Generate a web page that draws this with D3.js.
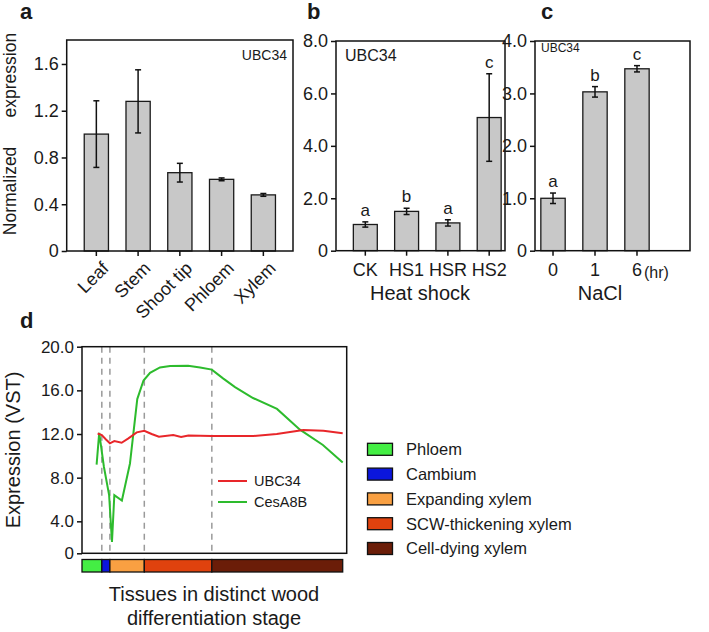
<!DOCTYPE html>
<html><head><meta charset="utf-8">
<script src="https://cdn.jsdelivr.net/npm/d3@7"></script>
<style>
body{margin:0;background:#fff}
text{font-family:Arial,"Liberation Sans",sans-serif;fill:#1a1a1a}
</style>
</head><body>
<svg id="chart" width="709" height="632"></svg>
<script>
// ---------- data ----------
const tissueCats = ["Leaf","Stem","Shoot tip","Phloem","Xylem"];
const tissueMean = [1.0, 1.28, 0.67, 0.613, 0.48];
const tissueErr  = [0.285, 0.27, 0.08, 0.012, 0.012];
const tissueTicks = [0, 0.4, 0.8, 1.2, 1.6];
const tissueTickLabels = ["0","0.4","0.8","1.2","1.6"];

const heatCats = ["CK","HS1","HSR","HS2"];
const heatMean = [1.0, 1.5, 1.06, 5.08];
const heatErr  = [0.1, 0.12, 0.12, 1.67];
const heatLetters = ["a","b","a","c"];
const heatTicks = [0, 2, 4, 6, 8];
const heatTickLabels = ["0","2.0","4.0","6.0","8.0"];

const saltCats = ["0","1","6"];
const saltMean = [1.0, 3.03, 3.47];
const saltErr  = [0.1, 0.1, 0.06];
const saltLetters = ["a","b","c"];
const saltTicks = [0, 1, 2, 3, 4];
const saltTickLabels = ["0","1.0","2.0","3.0","4.0"];

const ubcPos = [6.0,7.6,9.2,10.7,12.4,15.2,17.8,21.0,23.9,26.7,29.5,35.0,38.0,40.8,49.8,65.7,74.7,84.9,92.6,100];
const ubcVal = [12.05,11.9,11.5,11.15,11.35,11.2,11.6,12.15,12.3,12.0,11.75,11.9,11.72,11.87,11.82,11.82,12.0,12.36,12.3,12.06];
const cesPos = [5.6,6.6,8.4,10.4,11.5,12.4,15.3,18.4,21.2,23.6,26.1,29.9,33.8,40.7,45.3,49.8,54.1,58.7,65.6,74.8,83.6,92.4,100];
const cesVal = [9.2,12.1,9.0,6.4,2.1,6.4,5.9,9.3,15.2,16.9,17.6,18.1,18.23,18.26,18.1,17.9,17.1,16.3,15.3,14.3,12.4,11.0,9.4];
const vstTicks = [1.07, 4, 8, 12, 16, 20];
const vstTickLabels = ["0","4.0","8.0","12.0","16.0","20.0"];

const stageNames = ["Phloem","Cambium","Expanding xylem","SCW-thickening xylem","Cell-dying xylem"];
const stageStart = [0, 7.6, 10.7, 23.9, 49.8];
const stageEnd   = [7.6, 10.7, 23.9, 49.8, 100];
const stageColors = ["#44ee44","#0b16dc","#f9a042","#e0420e","#6b1d08"];

const seriesNames = ["UBC34","CesA8B"];
const seriesColors = ["#e8262a","#2dbb2d"];

// ---------- drawing ----------
const svg = d3.select("#chart");
const TICKFS = "18px";

function barPanel(cfg) {
  const g = svg.append("g");
  const x = d3.scaleBand().domain(cfg.cats).range([cfg.bx0, cfg.bx1]).paddingInner(0.42).paddingOuter(0.42);
  const y = d3.scaleLinear().domain([0, cfg.ymax]).range([cfg.yb, cfg.yt]);
  const data = cfg.cats.map((c,i)=>({c, m:cfg.mean[i], e:cfg.err[i], l:cfg.letters?cfg.letters[i]:null}));
  g.selectAll("rect.bar").data(data).join("rect").attr("class","bar")
    .attr("x", d=>x(d.c)).attr("width", x.bandwidth())
    .attr("y", d=>y(d.m)).attr("height", d=>y(0)-y(d.m))
    .attr("fill","#c8c8c8").attr("stroke","#1a1a1a").attr("stroke-width",1.3);
  const eb = g.selectAll("g.eb").data(data).join("g").attr("stroke","#111").attr("stroke-width",1.5);
  const cx = d=>x(d.c)+x.bandwidth()/2;
  eb.append("line").attr("x1",cx).attr("x2",cx).attr("y1",d=>y(d.m+d.e)).attr("y2",d=>y(d.m-d.e));
  eb.append("line").attr("x1",d=>cx(d)-3).attr("x2",d=>cx(d)+3).attr("y1",d=>y(d.m+d.e)).attr("y2",d=>y(d.m+d.e));
  eb.append("line").attr("x1",d=>cx(d)-3).attr("x2",d=>cx(d)+3).attr("y1",d=>y(d.m-d.e)).attr("y2",d=>y(d.m-d.e));
  if (cfg.letters) {
    g.selectAll("text.let").data(data).join("text").attr("class","let")
      .attr("x",cx).attr("y",d=>y(d.m+d.e)-6).attr("text-anchor","middle")
      .style("font-size","17px").text(d=>d.l);
  }
  g.append("rect").attr("x",cfg.x0).attr("y",cfg.yt).attr("width",cfg.x1-cfg.x0).attr("height",cfg.yb-cfg.yt)
    .attr("fill","none").attr("stroke","#111").attr("stroke-width",1.5);
  const ya = g.append("g").attr("transform",`translate(${cfg.x0},0)`)
    .call(d3.axisLeft(y).tickValues(cfg.ticks).tickFormat((d,i)=>cfg.tickLabels[i]).tickSize(5).tickPadding(3));
  ya.select(".domain").remove();
  ya.selectAll("line").attr("stroke","#111").attr("stroke-width",1.5);
  ya.selectAll("text").style("font-size",TICKFS).attr("fill","#1a1a1a");
  const xa = g.append("g").attr("transform",`translate(0,${cfg.yb})`)
    .call(d3.axisBottom(x).tickSize(5).tickPadding(8));
  xa.select(".domain").remove();
  xa.selectAll("line").attr("stroke","#111").attr("stroke-width",1.5);
  xa.selectAll("text").style("font-size",TICKFS).attr("fill","#1a1a1a");
  g.append("text").attr("x",cfg.tagX).attr("y",cfg.tagY).attr("text-anchor",cfg.tagAnchor)
    .style("font-size",cfg.tagFs).text("UBC34");
  return {g,x,y,xa};
}

// panel a
const pa = barPanel({cats:tissueCats, mean:tissueMean, err:tissueErr, ticks:tissueTicks, tickLabels:tissueTickLabels,
  x0:66.7, x1:293, bx0:66.7, bx1:293, yb:251, yt:40, ymax:1.805, tagX:287, tagY:60, tagAnchor:"end", tagFs:"14px"});
pa.xa.selectAll(".tick text").attr("text-anchor","end").attr("dy","0.35em").attr("y",0).attr("x",0)
  .attr("transform","translate(9,14) rotate(-45)");
svg.append("text").attr("transform","translate(16,134) rotate(-90)").attr("text-anchor","middle")
  .style("font-size","17.5px").style("white-space","pre").text("Normalized      expression");
svg.append("text").attr("x",20).attr("y",19).style("font-size","22px").style("font-weight","bold").text("a");

// panel b
const pb = barPanel({cats:heatCats, mean:heatMean, err:heatErr, letters:heatLetters, ticks:heatTicks, tickLabels:heatTickLabels,
  x0:336, x1:505, bx0:336, bx1:518.5, yb:250.7, yt:41, ymax:8, tagX:345, tagY:61, tagAnchor:"start", tagFs:"16px"});
svg.append("text").attr("x",420).attr("y",300).attr("text-anchor","middle").style("font-size","20px").text("Heat shock");
svg.append("text").attr("x",307).attr("y",19).style("font-size","22px").style("font-weight","bold").text("b");

// panel c
const pc = barPanel({cats:saltCats, mean:saltMean, err:saltErr, letters:saltLetters, ticks:saltTicks, tickLabels:saltTickLabels,
  x0:535, x1:690, bx0:523.2, bx1:666.8, yb:250.7, yt:41, ymax:4, tagX:541, tagY:52, tagAnchor:"start", tagFs:"12px"});
svg.append("text").attr("x",pc.x("6")+pc.x.bandwidth()/2+7).attr("y",278).style("font-size","16px").text("(hr)");
svg.append("text").attr("x",600).attr("y",300).attr("text-anchor","middle").style("font-size","20px").text("NaCl");
svg.append("text").attr("x",541).attr("y",19).style("font-size","22px").style("font-weight","bold").text("c");

// panel d
{
  const g = svg.append("g");
  const X0=82, X1=342.7, YT=346.7, YB=553.3;
  const x = d3.scaleLinear().domain([0,100]).range([X0,X1]);
  const y = d3.scaleLinear().domain([1.07,20]).range([YB,YT]);
  g.selectAll("line.bd").data(stageEnd.slice(0,4)).join("line").attr("class","bd")
    .attr("x1",d=>x(d)).attr("x2",d=>x(d)).attr("y1",YT).attr("y2",YB)
    .attr("stroke","#9a9a9a").attr("stroke-width",1.5).attr("stroke-dasharray","6,5");
  const line = d3.line().x(d=>x(d[0])).y(d=>y(d[1]));
  g.append("path").datum(cesPos.map((p,i)=>[p,cesVal[i]])).attr("d",line)
    .attr("fill","none").attr("stroke",seriesColors[1]).attr("stroke-width",2);
  g.append("path").datum(ubcPos.map((p,i)=>[p,ubcVal[i]])).attr("d",line)
    .attr("fill","none").attr("stroke",seriesColors[0]).attr("stroke-width",2);
  g.append("rect").attr("x",X0).attr("y",YT).attr("width",X1+4-X0).attr("height",YB-YT)
    .attr("fill","none").attr("stroke","#111").attr("stroke-width",1.5);
  const ya = g.append("g").attr("transform",`translate(${X0},0)`)
    .call(d3.axisLeft(y).tickValues(vstTicks).tickFormat((d,i)=>vstTickLabels[i]).tickSize(5).tickPadding(3));
  ya.select(".domain").remove();
  ya.selectAll("line").attr("stroke","#111").attr("stroke-width",1.5);
  ya.selectAll("text").style("font-size","17px").attr("fill","#1a1a1a");
  g.selectAll("rect.st").data(stageNames).join("rect").attr("class","st")
    .attr("x",(d,i)=>x(stageStart[i])).attr("width",(d,i)=>x(stageEnd[i])-x(stageStart[i]))
    .attr("y",559.5).attr("height",12.5)
    .attr("fill",(d,i)=>stageColors[i]).attr("stroke","#111").attr("stroke-width",1.3);
  const lg = g.append("g");
  seriesNames.forEach((n,i)=>{
    lg.append("line").attr("x1",218).attr("x2",247).attr("y1",481+i*21).attr("y2",481+i*21)
      .attr("stroke",seriesColors[i]).attr("stroke-width",2);
    lg.append("text").attr("x",254).attr("y",481+i*21).attr("dy","0.36em").style("font-size","14.5px").text(n);
  });
  svg.append("text").attr("transform","translate(20,450) rotate(-90)").attr("text-anchor","middle")
    .style("font-size","20px").text("Expression (VST)");
  svg.append("text").attr("x",214).attr("y",601).attr("text-anchor","middle").style("font-size","20px").text("Tissues in distinct wood");
  svg.append("text").attr("x",214).attr("y",625).attr("text-anchor","middle").style("font-size","20px").text("differentiation stage");
  svg.append("text").attr("x",20).attr("y",328).style("font-size","22px").style("font-weight","bold").text("d");
  const sl = svg.append("g");
  stageNames.forEach((n,i)=>{
    const cy = 449.3 + i*24.8;
    sl.append("rect").attr("x",367.5).attr("y",cy-6).attr("width",25).attr("height",12)
      .attr("fill",stageColors[i]).attr("stroke","#111").attr("stroke-width",1.3);
    sl.append("text").attr("x",406).attr("y",cy).attr("dy","0.36em").style("font-size","16.5px").text(n);
  });
}
</script>
</body></html>
